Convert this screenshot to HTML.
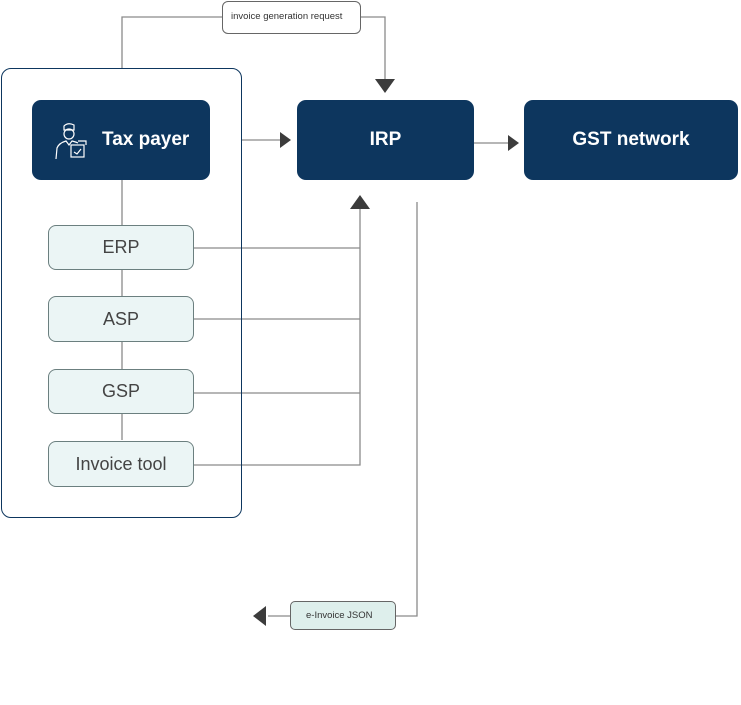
<!DOCTYPE html>
<html><head><meta charset="utf-8"><style>
body{margin:0;width:741px;height:705px;background:#fff;position:relative;font-family:"Liberation Sans",sans-serif;overflow:hidden}
.a{position:absolute;box-sizing:border-box}
.dark{background:#0d365e;border-radius:9px;color:#fff;font-weight:bold;font-size:19px;display:flex;align-items:center;justify-content:center}
.light{background:#ebf5f5;border:1px solid #6b7f7f;border-radius:8px;color:#444;font-size:18px;display:flex;align-items:center;justify-content:center}
</style></head><body>
<svg class="a" style="left:0;top:0" width="741" height="705">
<g stroke="#8a8a8a" stroke-width="1.3" fill="none">
<polyline points="122,68 122,17 222,17"/>
<polyline points="361,17 385,17 385,80"/>
<line x1="242" y1="140" x2="280" y2="140"/>
<line x1="474" y1="143" x2="508" y2="143"/>
<line x1="122" y1="180" x2="122" y2="440"/>
<polyline points="194,248 360,248"/>
<line x1="194" y1="319" x2="360" y2="319"/>
<line x1="194" y1="393" x2="360" y2="393"/>
<polyline points="194,465 360,465 360,208"/>
<polyline points="417,202 417,616 396,616"/>
<line x1="268" y1="616" x2="290" y2="616"/>
</g>
<g fill="#3c3c3c">
<polygon points="375,79 395,79 385,93"/>
<polygon points="280,132 280,148 291,140"/>
<polygon points="508,135 508,151 519,143"/>
<polygon points="350,209 370,209 360,195"/>
<polygon points="266,606 266,626 253,616"/>
</g>
</svg>
<div class="a" style="left:1px;top:68px;width:241px;height:450px;border:1px solid #0d365e;border-radius:10px"></div>
<div class="a" style="left:222px;top:1px;width:139px;height:33px;border:1px solid #666;border-radius:6px;background:#fff;font-size:9.5px;color:#333;padding:9px 0 0 8px">invoice generation request</div>
<div class="a dark" style="left:32px;top:100px;width:178px;height:80px;justify-content:flex-start;padding-left:70px">Tax payer
<svg style="position:absolute;left:22px;top:22px" width="36" height="38" viewBox="0 0 36 38" fill="none" stroke="#fff" stroke-width="1.2"><path d="M10 4 Q14 0 20 3 L20 8 L10 8Z"/><circle cx="15" cy="12" r="5"/><path d="M2 37 L3 26 Q5 21 12 19 L15 23 L18 19 Q22 20 24 21"/><rect x="17" y="23" width="13" height="12"/><path d="M20 30 L23 32 L27 27"/><path d="M24 19 L32 19 L32 23"/></svg>
</div>
<div class="a dark" style="left:297px;top:100px;width:177px;height:80px">IRP</div>
<div class="a dark" style="left:524px;top:100px;width:214px;height:80px">GST network</div>
<div class="a light" style="left:48px;top:225px;width:146px;height:45px">ERP</div>
<div class="a light" style="left:48px;top:296px;width:146px;height:46px">ASP</div>
<div class="a light" style="left:48px;top:369px;width:146px;height:45px">GSP</div>
<div class="a light" style="left:48px;top:441px;width:146px;height:46px">Invoice tool</div>
<div class="a" style="left:290px;top:601px;width:106px;height:29px;background:#deefec;border:1px solid #666;border-radius:5px;font-size:9.5px;color:#333;padding:8px 0 0 15px">e-Invoice JSON</div>
</body></html>
